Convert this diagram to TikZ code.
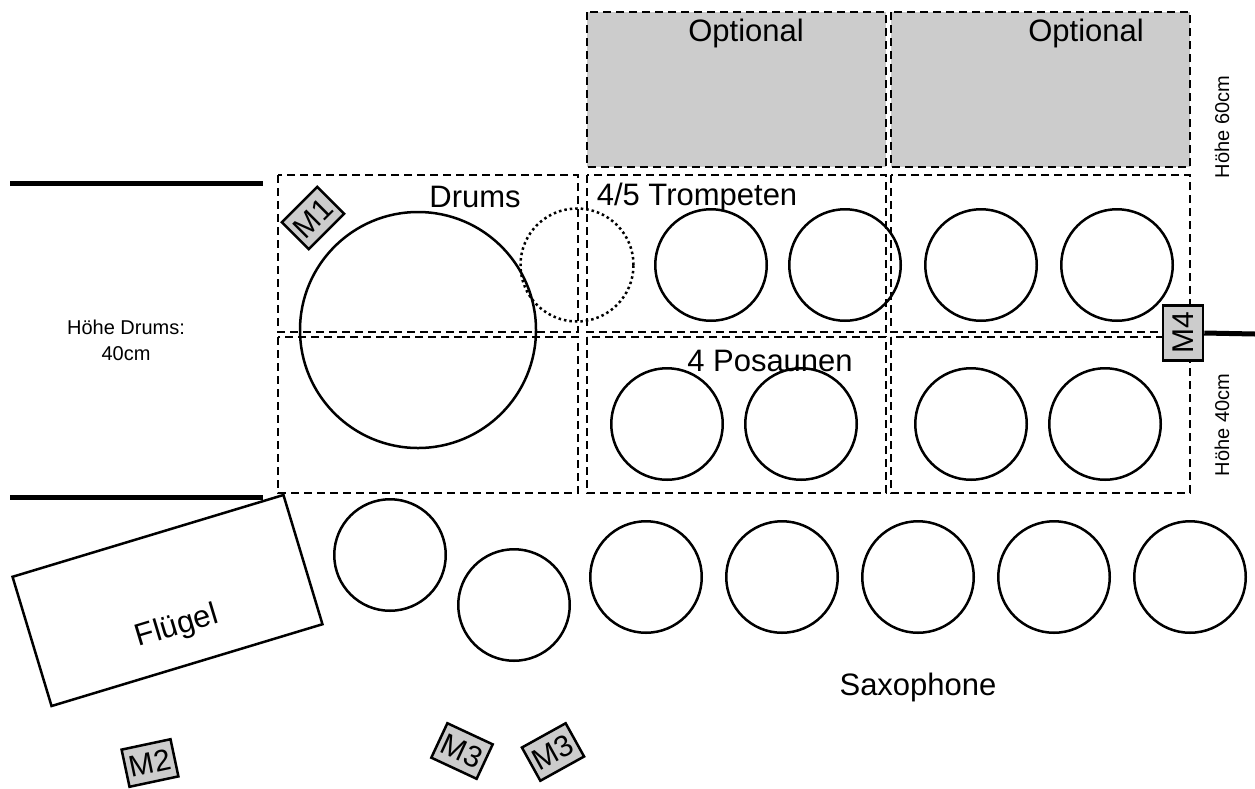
\documentclass[tikz,border=0pt]{standalone}
\usepackage{fontspec}
\setmainfont{Liberation Sans}
\usepackage{tikz}
\usetikzlibrary{positioning}

\begin{document}
\begin{tikzpicture}[x=1pt, y=-1pt, node distance=20pt,
  zone/.style={draw, line width=2.5pt, dash pattern=on 8pt off 5pt},
  seat/.style={draw, circle, line width=2.5pt, minimum size=111.5pt, inner sep=0pt},
  mic/.style={draw, line width=2.5pt, fill=gray!40, inner sep=0pt, minimum width=50pt, minimum height=38pt, font=\fontsize{30}{32}\selectfont},
  big/.style={font=\fontsize{31}{36}\selectfont},
  small/.style={font=\fontsize{20}{26}\selectfont},
  wall/.style={line width=5pt}]
\useasboundingbox (0,0) rectangle (1255,788);

% optional risers
\fill[gray!40] (587,12) rectangle (886,167);
\fill[gray!40] (891,12) rectangle (1190,167);
\draw[zone] (587,12) rectangle (886,167);
\draw[zone] (891,12) rectangle (1190,167);
\node[big] (opt1) at (746,33) {Optional};
\node[big] (opt2) at (1086,33) {Optional};

% risers
\draw[zone] (278,175) rectangle (578,332);
\draw[zone] (278,337) rectangle (578,493);
\draw[zone] (587,175) rectangle (886,332);
\draw[zone] (891,175) rectangle (1190,332);
\draw[zone] (587,337) rectangle (886,493);
\draw[zone] (891,337) rectangle (1190,493);

% walls
\coordinate (wl1) at (10,183);
\coordinate (wr1) at (263,183);
\coordinate (wl2) at (10,497);
\coordinate (wr2) at (263,497);
\coordinate (stage) at (1255,334);
\draw[wall] (wl1) -- (wr1);
\draw[wall] (wl2) -- (wr2);

% drums
\node[seat, minimum size=236pt] (drum) at (418,330) {};
\node[draw, circle, line width=2.5pt, dash pattern=on 2.5pt off 3pt, minimum size=113pt] (perc) at (577,265) {};
\node[big] (drums) at (475,197) {Drums};

% trumpets
\node[seat] (tr1) at (711,265) {};
\node[seat, right=of tr1] (tr2) {};
\node[seat] (tr3) at (981,265) {};
\node[seat, right=22pt of tr3] (tr4) {};
\node[big] (trp) at (697,197) {4/5 Trompeten};

% trombones
\node[seat] (pos1) at (667,424) {};
\node[seat, right=of pos1] (pos2) {};
\node[seat] (pos3) at (971,424) {};
\node[seat, right=of pos3] (pos4) {};
\node[big] (pos) at (770,361) {4 Posaunen};

% saxophones
\node[seat] (sax1) at (390,555) {};
\node[seat] (sax2) at (514,605) {};
\node[seat] (sax3) at (646,577) {};
\node[seat, right=22pt of sax3] (sax4) {};
\node[seat, right=22pt of sax4] (sax5) {};
\node[seat, right=22pt of sax5] (sax6) {};
\node[seat, right=22pt of sax6] (sax7) {};
\node[big] (sax) at (918,687) {Saxophone};

% piano
\node[draw, line width=2.5pt, rotate=16.8, minimum width=283pt, minimum height=135pt] (piano) at (167.5,600.5) {};
\node[big, rotate=16.8] (fluegel) at (177,627) {Flügel};

% mics
\node[mic, rotate=45] (m1) at (313,218) {M1};
\node[mic, rotate=12] (m2) at (150,763) {M2};
\node[mic, rotate=-25] (m3a) at (462,751) {M3};
\node[mic, rotate=29] (m3b) at (553,752) {M3};
\node[mic, rotate=90, minimum width=55pt, minimum height=40pt] (m4) at (1183,333) {M4};
\draw[wall] (m4.south) -- (stage);

% heights
\node[small, align=center] (hdrums) at (126,340) {Höhe Drums:\\40cm};
\node[small, rotate=90] (h60) at (1222,127) {Höhe 60cm};
\node[small, rotate=90] (h40) at (1222,425) {Höhe 40cm};
\end{tikzpicture}
\end{document}
